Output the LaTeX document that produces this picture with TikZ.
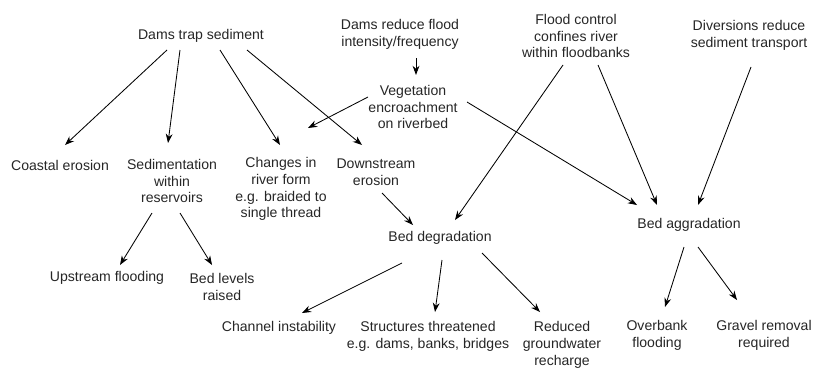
\documentclass[tikz,border=0pt]{standalone}
\usepackage{fontspec}
\setmainfont{Liberation Sans}
\usetikzlibrary{arrows.meta,calc}

\begin{document}
\begin{tikzpicture}[x=0.025cm, y=-0.025cm]
                \tikzstyle{txt} = [align=center, inner sep=0pt, font=\fontsize{10}{12}\selectfont, text=black!85]
                \tikzstyle{arrow} = [line width=0.6pt, -{Stealth[length=2.3mm, width=1.7mm]}]
                \useasboundingbox (0,0) rectangle (813,369);

                % causes
                \node (dts) [txt] at (201,36) {Dams trap sediment};
                \node (drf) [txt] at (400,34) {Dams reduce flood\\intensity/frequency};
                \node (fc) [txt] at (576,36) {Flood control\\confines river\\within floodbanks};
                \node (div) [txt] at (749,35) {Diversions reduce\\sediment transport};
                \node (veg) [txt] at (413,107) {Vegetation\\encroachment\\on riverbed};

                % first effects
                \node (coast) [txt] at (60,165) {Coastal erosion};
                \node (sedres) [txt] at (172,181) {Sedimentation\\within\\reservoirs};
                \node (change) [txt] at (281,189) {Changes in\\river form\\e.g. braided to\\single thread};
                \node (downero) [txt] at (376,172) {Downstream\\erosion};
                \node (beddeg) [txt] at (440,238) {Bed degradation};
                \node (bedagg) [txt] at (689,225) {Bed aggradation};

                % second effects
                \node (upflood) [txt] at (107,278) {Upstream flooding};
                \node (bedlev) [txt] at (222,287) {Bed levels\\raised};
                \node (chan) [txt] at (279,328) {Channel instability};
                \node (struct) [txt] at (428,336) {Structures threatened\\e.g. dams, banks, bridges};
                \node (recharge) [txt] at (562,345) {Reduced\\groundwater\\recharge};
                \node (overbank) [txt] at (657,335) {Overbank\\flooding};
                \node (gravel) [txt] at (764,335) {Gravel removal\\required};

                \draw [arrow] ($(dts)+(-34,14)$) -- ($(coast)+(5,-20)$);
                \draw [arrow] ($(dts)+(-21,14)$) -- ($(sedres)+(-4,-38)$);
                \draw [arrow] ($(dts)+(19,14)$) -- ($(change)+(-1,-44)$);
                \draw [arrow] ($(dts)+(46,14)$) -- ($(downero)+(-14,-27)$);
                \draw [arrow] ($(drf)+(16,24)$) -- ($(veg)+(3,-32)$);
                \draw [arrow] ($(veg)+(-45,-10)$) -- ($(change)+(27,-61)$);
                \draw [arrow] ($(veg)+(54,-5)$) -- ($(bedagg)+(-52,-20)$);
                \draw [arrow] ($(fc)+(-13,29)$) -- ($(beddeg)+(15,-18)$);
                \draw [arrow] ($(fc)+(22,29)$) -- ($(bedagg)+(-32,-20)$);
                \draw [arrow] ($(div)+(2,32)$) -- ($(bedagg)+(9,-20)$);
                \draw [arrow] ($(sedres)+(-20,32)$) -- ($(upflood)+(13,-13)$);
                \draw [arrow] ($(sedres)+(8,32)$) -- ($(bedlev)+(-10,-22)$);
                \draw [arrow] ($(downero)+(6,21)$) -- ($(beddeg)+(-27,-13)$);
                \draw [arrow] ($(beddeg)+(-38,25)$) -- ($(chan)+(23,-15)$);
                \draw [arrow] ($(beddeg)+(2,22)$) -- ($(struct)+(7,-24)$);
                \draw [arrow] ($(beddeg)+(42,15)$) -- ($(recharge)+(-22,-33)$);
                \draw [arrow] ($(bedagg)+(-5,22)$) -- ($(overbank)+(8,-28)$);
                \draw [arrow] ($(bedagg)+(9,22)$) -- ($(gravel)+(-27,-35)$);
\end{tikzpicture}
\end{document}
